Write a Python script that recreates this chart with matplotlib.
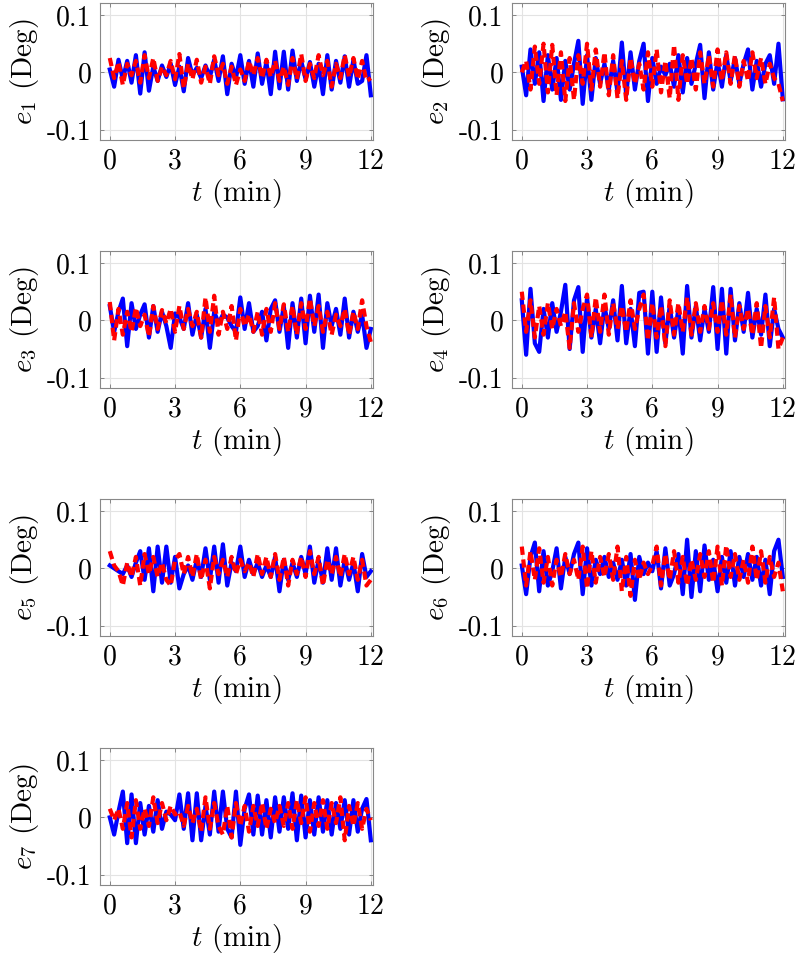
import numpy as np
import matplotlib
matplotlib.use("Agg")
import matplotlib.pyplot as plt

plt.rcParams['font.family'] = 'cmr10'
plt.rcParams['mathtext.fontset'] = 'cm'
plt.rcParams['axes.unicode_minus'] = False

# time axis (min), one sample every 0.2 min
t = np.linspace(0, 12, 61)

# tracking errors in milli-degrees
e1_blue = [5, -25, 22, -12, 20, -18, 30, -37, 35, -32, 10, -15, 12, -8, 15, -22, 10, -33, 25, -5,
           8, -10, 12, -8, 22, -15, 28, -38, 15, -10, 30, -20, 20, -25, 33, -20, 18, -38, 36, -28,
           36, -30, 38, -15, 20, -12, 18, -25, 15, -38, 30, -30, 20, -18, 28, -25, 22, -20, -15, 30, -40]
e1_red = [25, -10, 18, -22, 15, -5, 20, -18, 30, -10, 25, -15, 10, -5, 20, -12, 32, -28, 15, -12,
          22, -18, 10, -20, 28, -5, 15, -20, 10, -22, 5, -15, 20, -5, 25, -10, 22, -8, 20, -15,
          10, -22, 25, -12, 32, -15, 15, -10, 30, -5, 20, -25, 15, -10, 30, -8, 25, -12, 20, -15, -10]

e2_blue = [10, -40, 40, -20, 35, -50, 30, -30, 25, -48, 20, -30, 15, 55, -55, 30, -48, 25, -20, 15,
           -30, 20, -35, 52, -40, 35, -30, 20, 50, -50, 25, -20, 10, -5, 15, -25, 30, -35, 25, -20,
           15, 48, -45, 35, -30, 20, -25, 30, -15, 25, -20, 15, 40, -30, 20, -25, 15, 30, -20, 50, -47]
e2_red = [0, 20, -30, 45, -20, 50, -35, 48, -40, 35, -50, 25, -48, 30, -20, 50, -30, 40, -25, 35,
          -40, 30, -45, 20, -48, 25, -20, 15, -30, 35, -25, 40, -35, 20, -45, 48, -48, 30, -20, 25,
          -30, 35, -20, 30, -25, 40, -15, 35, -20, 30, -25, 20, -15, 35, -10, 25, -20, 15, -10, -20, -50]

e3_blue = [25, -20, 15, 38, -45, 30, -15, 10, 28, -30, 25, -20, 15, -10, -48, 12, 5, -15, 30, -25,
           10, -30, 20, -48, 15, -5, 10, 5, -10, -20, 40, -15, 30, -20, -10, 15, -35, 20, 35, -20,
           25, -48, 30, -30, 38, -40, 43, -20, 45, -48, 30, -10, 20, -25, 38, -30, 15, -20, 10, -48, -15]
e3_red = [32, -35, 20, -25, 15, -20, 22, -10, 10, -28, 25, -15, 18, -5, 20, -20, 25, -15, 20, -10,
          15, -30, 40, -20, 43, -25, 15, -15, 25, -35, 20, -10, 10, -20, 15, -25, 20, -20, 30, -15,
          28, -20, 25, -25, 30, -15, 38, -10, 25, -20, 15, -25, 10, -10, 20, -25, 15, -15, 35, -10, -38]

e4_blue = [35, -60, 55, -40, -55, 20, -30, 30, -20, 15, 62, -50, 35, 58, -55, 40, -30, 20, -40, 25,
           -15, 35, -35, 60, -40, 20, -45, 48, 50, -58, 50, -55, 40, -40, 25, -30, 20, -58, 60, -30,
           25, -35, 20, -20, 58, -50, 55, -58, 55, -35, 30, -20, 48, -30, 20, -25, 45, -45, 20, -15, -30]
e4_red = [50, -20, 35, -30, 25, -25, 30, -15, 20, -10, 15, -48, 30, -20, 20, 45, -30, 40, -20, 45,
          -25, 30, -15, 25, -20, 35, -15, 20, 45, -35, 30, -30, 25, -45, 35, -25, 30, -20, 40, -25,
          30, -20, 25, -15, 30, -20, 35, -25, 45, -30, 25, -15, 20, -25, 30, -48, 25, -30, 40, -50, -30]

e5_blue = [5, 0, -5, -10, 5, -15, 10, 30, -20, 35, -40, 38, -25, 38, -25, 20, -35, -10, 5, -20,
           15, -15, 35, -20, 38, -25, 42, -30, 10, -5, 38, -15, 15, -10, 10, -15, 5, -15, 20, -40,
           15, -20, 10, -15, 20, -10, 38, -25, 15, -25, 35, -20, 35, -30, 15, -20, 10, -40, 25, -15, -5]
e5_red = [30, 5, -5, -30, 10, -15, 20, -30, 25, -10, 20, -15, 10, -20, -30, 15, 25, -10, 20, -15,
          25, -20, 15, -35, 20, -10, 15, -15, 20, -10, 15, -5, 10, -15, 25, -10, 20, -15, 25, -20,
          20, -30, 15, -10, 20, -15, 30, -10, 20, -30, 15, -10, 20, -15, 25, -10, 20, -20, 15, -30, -20]

e6_blue = [5, -45, 20, 45, -40, 30, -30, -5, 35, -35, 20, -10, 25, 45, -45, 35, -30, 15, -10, 20,
           -15, 10, -20, 15, -30, 25, -55, 20, -10, 10, -5, 30, -35, 35, -30, -10, 25, -45, 50, -50,
           30, -40, 40, -20, 15, -40, 20, -25, 30, -30, 20, -15, 25, -20, 20, -30, 15, -45, 30, 50, -15]
e6_red = [38, -30, 30, -20, 35, -25, 20, -30, 15, -15, 25, -10, 15, -20, 38, -35, 30, -25, 20, -15,
          25, -20, 38, -40, 20, -48, 15, -20, 10, -10, 5, 38, -30, 25, -20, 30, -25, 20, -30, 15,
          -20, 25, -15, 30, -25, 38, -30, 40, -15, 25, -20, 15, -25, 38, -20, 30, -25, 20, -15, 10, -40]

e7_blue = [0, -30, 10, 45, -45, 40, -45, 25, -30, 20, -25, 30, -20, 10, 5, -5, 40, -20, 42, -40,
           42, -40, 20, -30, 45, -25, 45, -20, -35, 45, -48, 15, 40, -30, 38, -30, 30, -35, 35, -25,
           35, -20, 42, -40, 38, -35, 30, -30, 35, -25, 30, -30, 25, -20, 30, -30, 30, -25, 15, 32, -40]
e7_red = [15, -5, 15, -20, 25, -35, 30, -20, 15, -15, 35, -10, 25, -5, 20, 5, 10, -15, 20, -10,
          15, -25, 35, -20, 25, -15, -30, 20, -35, 25, -15, 20, -25, 20, -15, 25, -20, 15, -10, 20,
          -15, 25, -20, 30, -10, 35, -25, 25, -15, 30, -20, 25, -10, 35, -40, 20, -15, 25, -20, 15, -5]

blue_series = [e1_blue, e2_blue, e3_blue, e4_blue, e5_blue, e6_blue, e7_blue]
red_series = [e1_red, e2_red, e3_red, e4_red, e5_red, e6_red, e7_red]
ylabels = ['$e_{%d}$ (Deg)' % (k + 1) for k in range(7)]

xticks = [0, 3, 6, 9, 12]
yticks = [-0.1, 0, 0.1]
yticklabels = ['-0.1', '0', '0.1']

fig = plt.figure(figsize=(8, 9.58), dpi=100)

# axes boxes in pixels (left, top), all 273 x 137
lefts = [100, 512]
tops = [3, 251, 499, 748]
W, H = 273, 137

for k in range(7):
    row, col = divmod(k, 2)
    l = lefts[col] / 800
    b = 1 - (tops[row] + H) / 958
    ax = fig.add_axes([l, b, W / 800, H / 958])

    ax.plot(t, np.array(blue_series[k]) / 1000, color='#0000ff', lw=3.0, zorder=2)
    ax.plot(t, np.array(red_series[k]) / 1000, color='#ff0000', lw=3.0,
            ls=(0, (2.0, 1.1)), zorder=3)

    ax.set_xlim(-0.45, 12.1)
    ax.set_ylim(-0.118, 0.121)
    ax.set_xticks(xticks)
    ax.set_xticklabels([str(v) for v in xticks])
    ax.set_yticks(yticks)
    ax.set_yticklabels(yticklabels)
    ax.grid(True, color='#e3e3e3', lw=0.8)
    ax.set_axisbelow(True)
    ax.tick_params(direction='in', length=3, width=0.6, color='#777777',
                   labelsize=20, top=True, right=True, pad=6)
    for s in ax.spines.values():
        s.set_color('#888888')
        s.set_linewidth(0.8)
    ax.set_xlabel('$t$ (min)', fontsize=21, labelpad=2)
    ax.set_ylabel(ylabels[k], fontsize=21, labelpad=4)

fig.savefig('out.png', dpi=100)
